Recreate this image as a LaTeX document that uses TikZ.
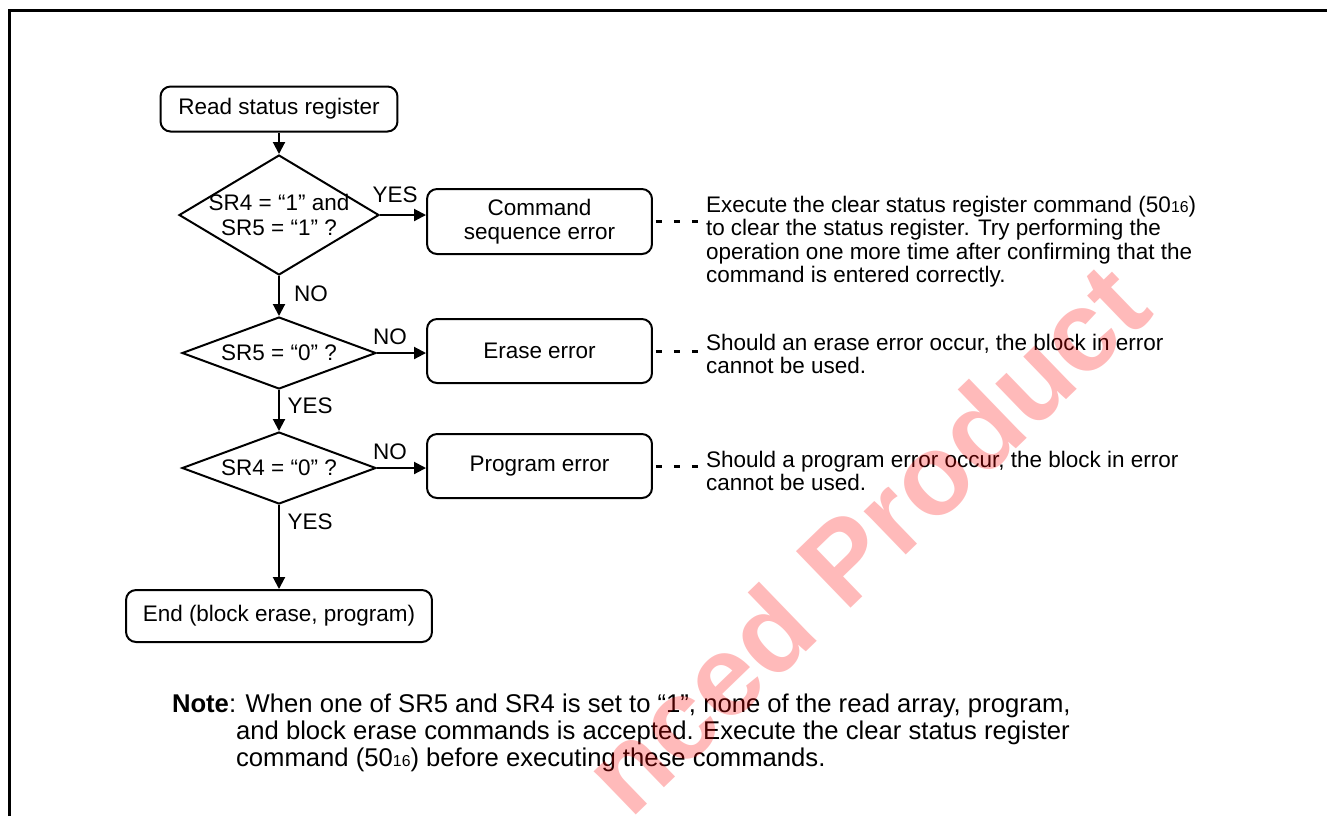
\documentclass[tikz,border=0pt]{standalone}
\usepackage{fontspec}
\setmainfont{Liberation Sans}
\usetikzlibrary{arrows.meta,positioning,shapes.geometric}
\newcommand{\dgfont}{\fontsize{12.8pt}{14pt}\selectfont}
\newcommand{\notefont}{\fontsize{12.8pt}{13.4pt}\selectfont}
\newcommand{\hexsub}[1]{{\fontsize{9pt}{9pt}\selectfont #1}}
\begin{document}
\begin{tikzpicture}[x=0.02cm,y=-0.02cm,line width=0.04cm,
  every node/.style={font=\dgfont},
  term/.style={draw,rounded corners=0.2cm,minimum height=0.9cm},
  proc/.style={draw,rounded corners=0.2cm,minimum width=4.5cm,minimum height=1.28cm,align=center},
  decision/.style={draw,diamond,inner sep=0pt,minimum width=3.88cm,minimum height=1.44cm},
  flow/.style={-{Triangle[length=0.24cm,width=0.24cm]}},
  leader/.style={line width=0.06cm,dash pattern=on 0.13cm off 0.23cm,shorten <=0.06cm},
  remark/.style={anchor=north west,align=left,inner sep=0pt,font=\notefont},
  tag/.style={inner sep=0pt}
]
\clip (0,0) rectangle (1327,816);
\draw[line width=0.05cm] (9.5,816) -- (9.5,10.5) -- (1327,10.5);

% flow
\node[term,minimum width=4.74cm] (read) at (279,109) {Read status register};
\node[decision,minimum width=4cm,minimum height=2.4cm] (d1) at (279,215) {};
\node[align=center] (c1) at (d1) {SR4 = “1” and\\SR5 = “1” ?};
\node[proc,minimum height=1.3cm] (cse) at (539.5,221.5) {Command\\sequence error};
\node[decision] (d2) at (279,353) {};
\node (c2) at (d2) {SR5 = “0” ?};
\node[proc] (ers) at (539.5,351) {Erase error};
\node[decision] (d3) at (279,468) {};
\node (c3) at (d3) {SR4 = “0” ?};
\node[proc] (prg) at (539.5,466) {Program error};
\node[term,minimum width=6.12cm,minimum height=1.04cm] (end) at (279,616)
  {End (block erase, program)};

\draw[flow] (read) -- (d1);
\draw[flow] (d1) -- (d2);
\draw[flow] (d2) -- (d3);
\draw[flow] (d3) -- (end);
\draw[flow] (d1.east) -- (d1.east -| cse.west);
\draw[flow] (d2.east) -- (d2.east -| ers.west);
\draw[flow] (d3.east) -- (d3.east -| prg.west);

\node[tag] (y1) at (395,195) {YES};
\node[tag] (n1) at (311,294) {NO};
\node[tag] (n2) at (390,337) {NO};
\node[tag] (y2) at (310,406) {YES};
\node[tag] (n3) at (390,452) {NO};
\node[tag] (y3) at (310,522) {YES};

% remarks
\node[remark] (r1) at (705,195) {Execute the clear status register command (50\hexsub{16})\\
  to clear the status register. Try performing the\\
  operation one more time after confirming that the\\
  command is entered correctly.};
\node[remark] (r2) at (705,333) {Should an erase error occur, the block in error\\cannot be used.};
\node[remark] (r3) at (705,450) {Should a program error occur, the block in error\\cannot be used.};
\draw[leader] (cse.east) -- (cse.east -| r1.west);
\draw[leader] (ers.east) -- (ers.east -| r2.west);
\draw[leader] (prg.east) -- (prg.east -| r3.west);

\node[remark,font=\fontsize{14.6pt}{15.4pt}\selectfont] (note) at (171,693)
  {\textbf{Note}: When one of SR5 and SR4 is set to “1”, none of the read array, program,\\
  \phantom{\textbf{Note}:}and block erase commands is accepted. Execute the clear status register\\
  \phantom{\textbf{Note}:}command (50\hexsub{16}) before executing these commands.};

\node[rotate=44,text=red,text opacity=0.27,font=\bfseries\fontsize{65pt}{65pt}\selectfont]
  (wm) at (865,538) {nced Product};
\end{tikzpicture}
\end{document}
